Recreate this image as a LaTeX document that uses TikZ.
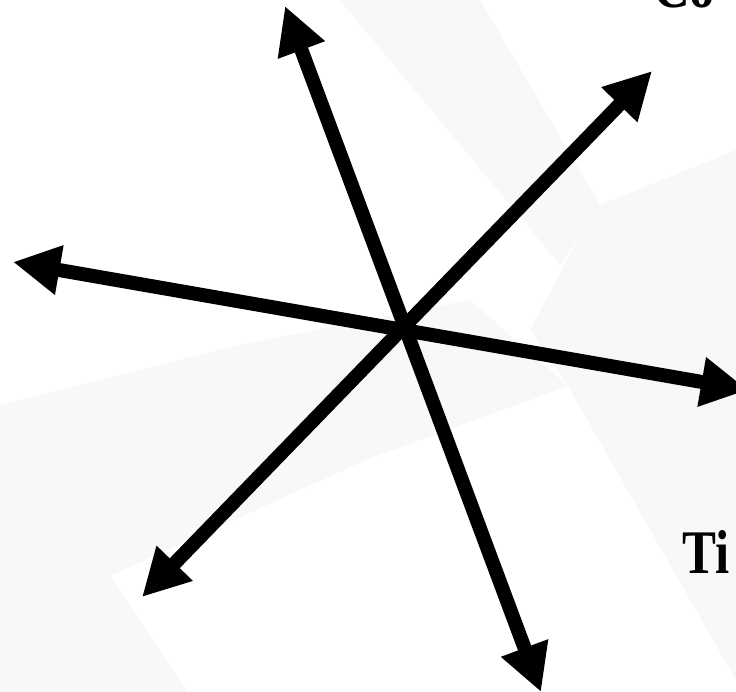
\documentclass[tikz,border=0pt]{standalone}
\usepackage{fontspec}
\setmainfont{Liberation Serif}
\newfontfamily\lblfont{Liberation Serif Bold}
\usetikzlibrary{arrows.meta}
\definecolor{bgshade}{RGB}{247,248,250}
\tikzset{
  dblarrow/.style={line width=14pt, {Triangle[length=47pt,width=47pt]}-{Triangle[length=47pt,width=47pt]}},
  shade/.style={fill=bgshade, draw=none},
  lbl/.style={inner sep=0pt, anchor=base west, xscale=0.82, font=\lblfont\fontsize{62}{62}\selectfont}
}
\begin{document}
\begin{tikzpicture}[x=1pt,y=-1pt]
\useasboundingbox (0,0) rectangle (736,692);
\clip (0,0) rectangle (736,692);
\fill[white] (0,0) rectangle (736,692);
% faint background shapes
\fill[shade] (0,405) -- (235,346) -- (470,300) -- (568,386) -- (368,459) -- (110,576) .. controls (140,620) .. (187,692) -- (0,692) -- cycle;
\fill[shade] (568,386) -- (736,330) -- (736,680) -- cycle;
\fill[shade] (595,207) -- (736,150) -- (736,330) -- (568,386) -- (530,330) -- cycle;
\fill[shade] (340,0) -- (480,0) -- (600,205) -- (560,265) -- cycle;
% arrow end points
\coordinate (n)  at (285,6);
\coordinate (s)  at (541,692);
\coordinate (ne) at (652,71);
\coordinate (sw) at (142,597);
\coordinate (w)  at (13,262);
\coordinate (e)  at (748,390);
\draw[dblarrow] (n) -- (s);
\draw[dblarrow] (sw) -- (ne);
\draw[dblarrow] (w) -- (e);
% labels (cut off at the picture edge)
\node[lbl] (co) at (653,8) {Co};
\node[lbl] (ti) at (682,573) {Ti};
\end{tikzpicture}
\end{document}
